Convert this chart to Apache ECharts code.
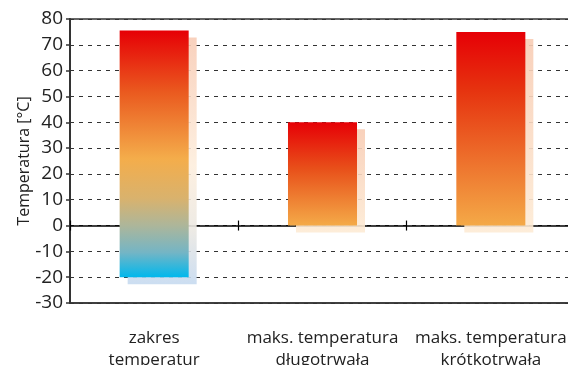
<!DOCTYPE html>
<html>
<head>
<meta charset="utf-8">
<script src="https://cdn.jsdelivr.net/npm/echarts@6/dist/echarts.min.js"></script>
<style>
  html, body { margin: 0; padding: 0; background: #fff; }
  #chart { width: 568px; height: 365px; }
</style>
</head>
<body>
<div id="chart"></div>
<script>
// Temperature ranges per category (lower and upper bound of each bar, °C)
const categories = ['zakres\ntemperatur', 'maks. temperatura\ndługotrwała', 'maks. temperatura\nkrótkotrwała'];
const lowValues = [-20, 0, 0];
const highValues = [75.5, 40, 75];
const yTicks = { min: -30, max: 80, interval: 10 };

const FONT = 'Open Sans';

// Colour ramps: full range bar runs red -> orange -> cyan, the others red -> orange
const barStops = [
  [{ offset: 0, color: '#e60006' }, { offset: 0.25, color: '#ea5a1f' }, { offset: 0.52, color: '#f4ad4b' },
   { offset: 0.68, color: '#d9b26d' }, { offset: 0.79, color: '#adb69a' }, { offset: 0.9, color: '#74b5c5' },
   { offset: 1, color: '#00b8ed' }],
  [{ offset: 0, color: '#e60006' }, { offset: 0.45, color: '#e8501a' }, { offset: 1, color: '#f4aa48' }],
  [{ offset: 0, color: '#e60006' }, { offset: 0.3, color: '#e6330f' }, { offset: 1, color: '#f4a947' }]
];
const shadowStops = [
  [{ offset: 0, color: '#f8ccb6' }, { offset: 0.52, color: '#fdeedd' }, { offset: 0.78, color: '#ebe8e2' },
   { offset: 1, color: '#c6daf0' }],
  [{ offset: 0, color: '#f8ccb4' }, { offset: 1, color: '#fdebd5' }],
  [{ offset: 0, color: '#f8ccb4' }, { offset: 1, color: '#fdebd5' }]
];

const data = categories.map((c, i) => [i, lowValues[i], highValues[i]]);

function renderItem(params, api) {
  const idx = api.value(0);
  const x = api.coord([idx, 0])[0];
  const top = api.coord([idx, api.value(2)])[1];
  const bottom = api.coord([idx, api.value(1)])[1];
  const w = api.size([1, 0])[0] * 0.41;
  const h = bottom - top;
  return {
    type: 'group',
    children: [
      {
        type: 'rect',
        shape: { x: x - w / 2 + 8, y: top + 7, width: w, height: h },
        style: { fill: new echarts.graphic.LinearGradient(0, 0, 0, 1, shadowStops[idx]), opacity: 0.9 }
      },
      {
        type: 'rect',
        shape: { x: x - w / 2, y: top, width: w, height: h },
        style: { fill: new echarts.graphic.LinearGradient(0, 0, 0, 1, barStops[idx]) }
      }
    ]
  };
}

const chart = echarts.init(document.getElementById('chart'), null, { renderer: 'canvas' });
chart.setOption({
  animation: false,
  backgroundColor: '#fff',
  grid: {
    left: 70, right: -7, top: 19, bottom: 62,
    containLabel: false, outerBoundsMode: 'none',
    show: true, borderColor: '#333', borderWidth: 1.5, backgroundColor: 'transparent'
  },
  xAxis: [
    {
      type: 'category', data: categories, position: 'bottom',
      axisLine: { onZero: false, lineStyle: { color: '#333', width: 1.5 } },
      axisTick: { show: false },
      axisLabel: { color: '#222', fontFamily: FONT, fontSize: 17, lineHeight: 22, margin: 24, interval: 0 }
    },
    {
      type: 'category', data: categories, position: 'bottom',
      axisLine: { onZero: true, onZeroAxisIndex: 0, lineStyle: { color: '#000', width: 1.5 } },
      axisTick: { show: true, length: 5, lineStyle: { color: '#000', width: 1.2 } },
      axisLabel: { show: false }
    },
    {
      type: 'category', data: categories, position: 'top',
      axisLine: { show: false, onZero: true, onZeroAxisIndex: 1 },
      axisTick: { show: true, length: 5, lineStyle: { color: '#000', width: 1.2 } },
      axisLabel: { show: false }
    }
  ],
  yAxis: [
    {
      type: 'value', min: yTicks.min, max: yTicks.max, interval: yTicks.interval,
      name: 'Temperatura [°C]', nameLocation: 'middle', nameGap: 38, nameRotate: 90,
      nameMoveOverlap: false,
      nameTextStyle: { color: '#222', fontFamily: FONT, fontSize: 16 },
      axisLine: { show: true, lineStyle: { color: '#333', width: 2 } },
      axisTick: { show: true, length: 4, lineStyle: { color: '#333', width: 1.5 } },
      axisLabel: { color: '#222', fontFamily: FONT, fontSize: 19, margin: 7 },
      splitLine: { show: true, lineStyle: { color: '#333', width: 1.2, type: [4, 5] } }
    },
    {
      type: 'value', min: yTicks.min, max: yTicks.max, interval: yTicks.interval,
      show: false, splitLine: { show: false }
    }
  ],
  series: [
    {
      type: 'custom',
      xAxisIndex: 0,
      yAxisIndex: 0,
      renderItem: renderItem,
      encode: { x: 0, y: [1, 2] },
      data: data
    }
  ]
});
</script>
</body>
</html>
